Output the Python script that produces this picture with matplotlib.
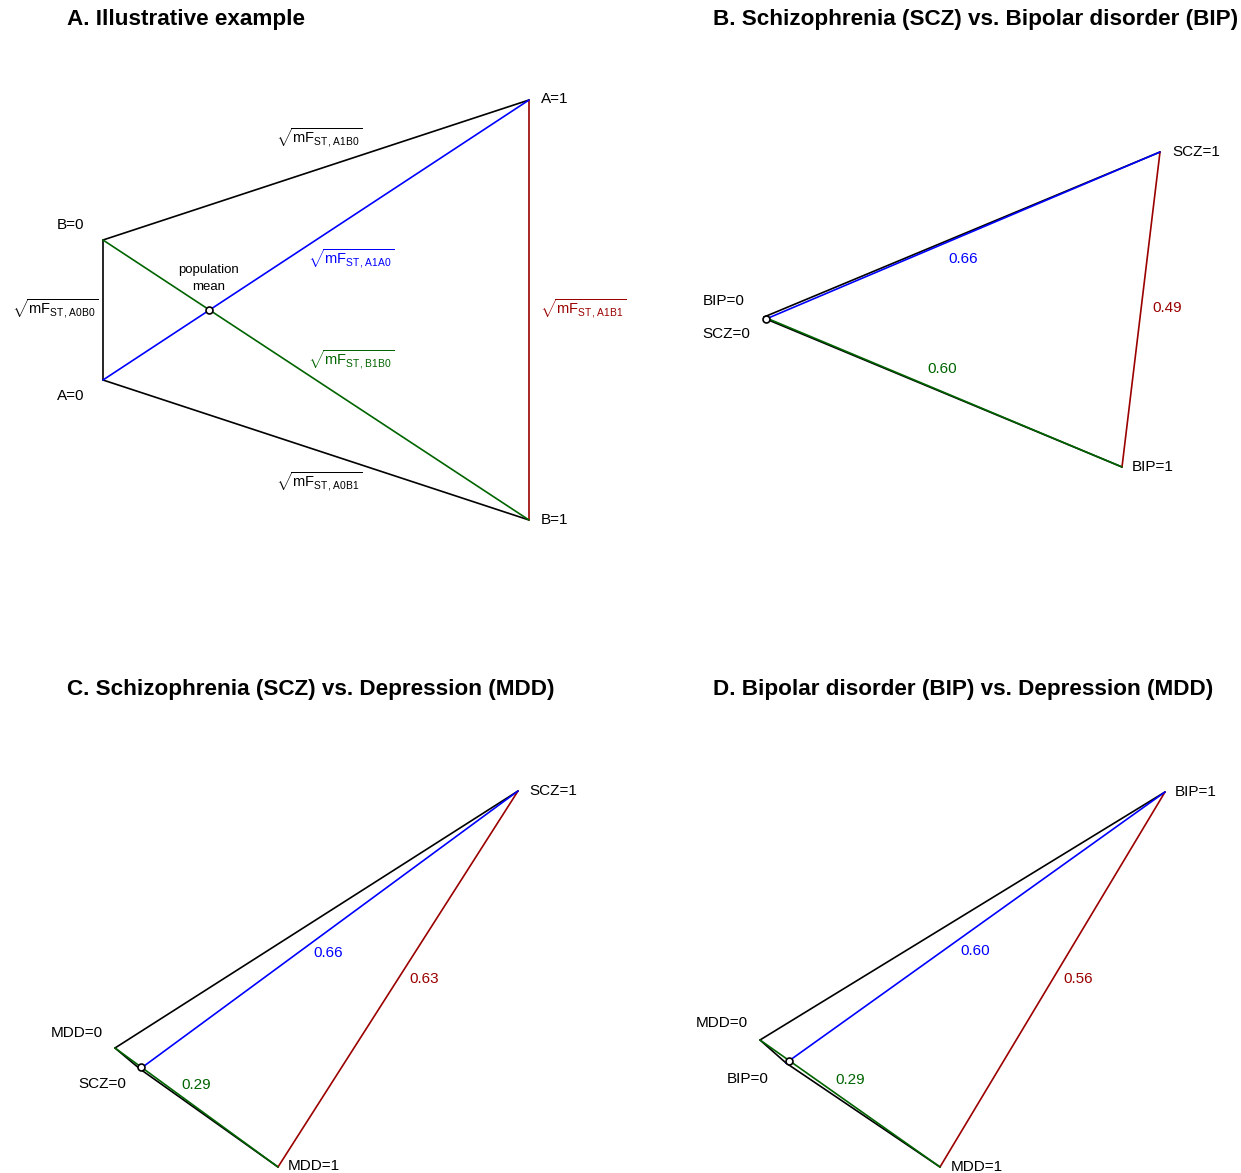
import matplotlib.pyplot as plt

plt.rcParams['font.family'] = ['Liberation Sans', 'DejaVu Sans']
plt.rcParams['mathtext.fontset'] = 'custom'
plt.rcParams['mathtext.rm'] = 'Liberation Sans'
plt.rcParams['mathtext.it'] = 'Liberation Sans:italic'
plt.rcParams['mathtext.bf'] = 'Liberation Sans:bold'

BLACK, BLUE, GREEN, RED = 'black', '#0000ff', '#006400', '#9b0000'

titles = ['A. Illustrative example',
          'B. Schizophrenia (SCZ) vs. Bipolar disorder (BIP)',
          'C. Schizophrenia (SCZ) vs. Depression (MDD)',
          'D. Bipolar disorder (BIP) vs. Depression (MDD)']

# vertices per panel, order: A=0, A=1, B=0, B=1 (pixel-ish units, y down)
vert_names = [['A=0', 'A=1', 'B=0', 'B=1'],
              ['SCZ=0', 'SCZ=1', 'BIP=0', 'BIP=1'],
              ['SCZ=0', 'SCZ=1', 'MDD=0', 'MDD=1'],
              ['BIP=0', 'BIP=1', 'MDD=0', 'MDD=1']]
vert_x = [[103, 529, 103, 529],
          [766, 1160, 764, 1122],
          [140, 518, 115, 278],
          [786, 1165, 760, 940]]
vert_y = [[380, 100, 240, 520],
          [319, 152, 317, 467],
          [1069, 791, 1048, 1167],
          [1063, 792, 1040, 1167]]
mean_x = [209, 766, 141, 789]
mean_y = [310, 318.5, 1067, 1061]

# sqrt(mFST) values for the coloured edges (panels B-D)
d_blue = [0.66, 0.66, 0.60]
d_red = [0.49, 0.63, 0.56]
d_green = [0.60, 0.29, 0.29]

# edges: (from, to, colour, name)
edges = [(1, 2, BLACK, 'A1B0'), (0, 3, BLACK, 'A0B1'), (0, 2, BLACK, 'A0B0'),
         (1, 3, RED, 'A1B1'), (1, 0, BLUE, 'A1A0'), (3, 2, GREEN, 'B1B0')]

# layout --------------------------------------------------------------
W, H = 1241, 1173
origins = [(0, 0), (620.5, 0), (0, 586.5), (620.5, 586.5)]
title_pos = [(67, 20), (713, 20), (67, 690), (713, 690)]
# vertex label positions (x, y, ha) in same order as vertices
vlab_pos = [[(71, 396, 'center'), (541, 99, 'left'), (71, 225, 'center'), (541, 520, 'left')],
            [(726, 334, 'center'), (1172, 152, 'left'), (724, 301, 'center'), (1132, 467, 'left')],
            [(102, 1084, 'center'), (529, 791, 'left'), (77, 1033, 'center'), (288, 1166, 'left')],
            [(748, 1079, 'center'), (1175, 792, 'left'), (722, 1023, 'center'), (951, 1167, 'left')]]
# panel A sqrt labels (left x, centre y)
sqrt_pos = {'A1B0': (276, 138), 'A0B1': (276, 482), 'A0B0': (12, 309),
            'A1B1': (540, 309), 'A1A0': (308, 259), 'B1B0': (308, 360)}
# numeric labels for blue, red, green edges (panels B-D)
num_pos = [[(963, 259), (1167, 308), (942, 369)],
           [(328, 953), (424, 979), (196, 1085)],
           [(975, 951), (1078, 979), (850, 1080)]]

fig = plt.figure(figsize=(W / 100, H / 100), dpi=100)

for p in range(4):
    x0, y0 = origins[p]
    ax = fig.add_axes([x0 / W, 1 - (y0 + H / 2) / H, 0.5, 0.5])
    ax.set_xlim(x0, x0 + W / 2)
    ax.set_ylim(y0 + H / 2, y0)
    ax.axis('off')

    xs, ys = vert_x[p], vert_y[p]
    for i, j, col, name in edges:
        ax.plot([xs[i], xs[j]], [ys[i], ys[j]], color=col, lw=1.2,
                solid_capstyle='round', zorder=2 if col == BLACK else 3)
    ax.plot(mean_x[p], mean_y[p], 'o', ms=5, mfc='white', mec='black',
            mew=1.2, zorder=5)

    for name, (tx, ty, ha) in zip(vert_names[p], vlab_pos[p]):
        ax.text(tx, ty, name, fontsize=11, ha=ha, va='center')

    tx, ty = title_pos[p]
    ax.text(tx, ty, titles[p], fontsize=16.2, fontweight='bold',
            ha='left', va='center', clip_on=False)

    if p == 0:
        for i, j, col, name in edges:
            lx, ly = sqrt_pos[name]
            ax.text(lx, ly, r'$\sqrt{\mathrm{mF}_{\mathrm{ST,\,%s}}}$' % name,
                    color=col, fontsize=10.5, ha='left', va='center')
        ax.text(mean_x[0], 278.5, 'population\nmean', fontsize=9.5,
                ha='center', va='center', linespacing=1.45)
    else:
        vals = [d_blue[p - 1], d_red[p - 1], d_green[p - 1]]
        for v, col, (lx, ly) in zip(vals, [BLUE, RED, GREEN], num_pos[p - 1]):
            ax.text(lx, ly, f'{v:.2f}', color=col, fontsize=11,
                    ha='center', va='center')

fig.savefig('out.png', dpi=100)
